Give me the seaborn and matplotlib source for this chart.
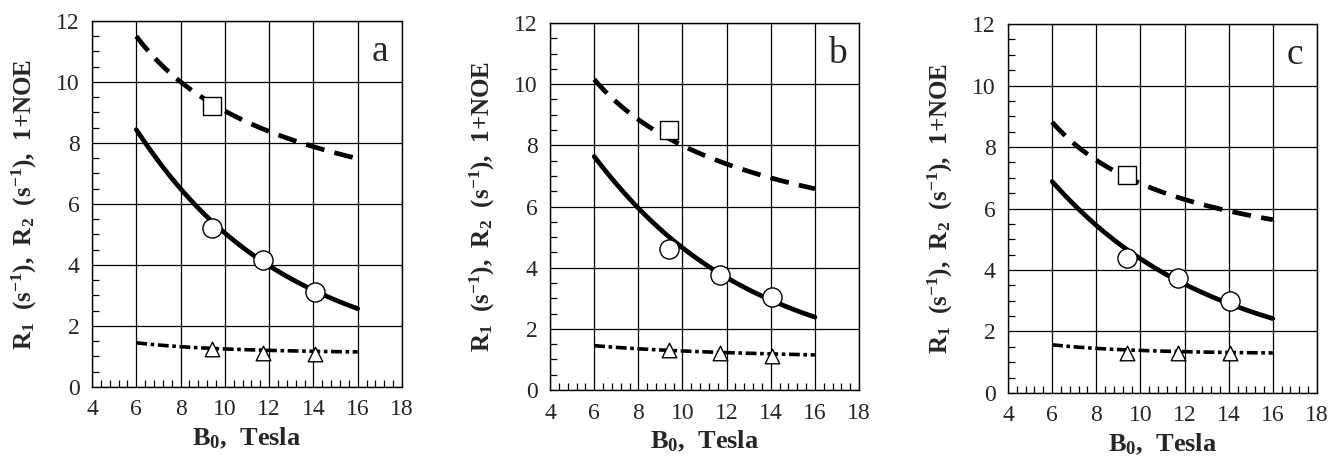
import numpy as np
import pandas as pd
import seaborn as sns
import matplotlib.pyplot as plt
from matplotlib.ticker import MultipleLocator

# Champ magnétique (Tesla) pour les courbes calculées et les points mesurés
x_curve = [6, 8, 10, 12, 14, 16]
x_pts = [9.4, 11.7, 14.05]

panels = ['a', 'b', 'c']

# R2 (tirets) / R1 (trait plein) / 1+NOE (tiret-point)
r2_curve = {'a': [11.5, 10.0, 9.05, 8.4, 7.85, 7.5],
            'b': [10.15, 8.85, 8.0, 7.4, 6.9, 6.6],
            'c': [8.8, 7.6, 6.8, 6.3, 5.9, 5.65]}
r1_curve = {'a': [8.45, 6.5, 5.0, 4.0, 3.2, 2.55],
            'b': [7.65, 5.9, 4.7, 3.65, 2.95, 2.38],
            'c': [6.9, 5.4, 4.4, 3.55, 2.9, 2.42]}
noe_curve = {'a': [1.45, 1.32, 1.25, 1.2, 1.17, 1.15],
             'b': [1.45, 1.35, 1.28, 1.22, 1.18, 1.15],
             'c': [1.57, 1.45, 1.38, 1.35, 1.32, 1.3]}

r2_pts = {'a': [9.2], 'b': [8.5], 'c': [7.1]}
r1_pts = {'a': [5.2, 4.15, 3.1], 'b': [4.6, 3.75, 3.05], 'c': [4.4, 3.75, 3.0]}
noe_pts = {'a': [1.25, 1.1, 1.08], 'b': [1.3, 1.2, 1.1], 'c': [1.3, 1.3, 1.3]}

sns.set_style('white')
plt.rcParams['font.family'] = ['Liberation Serif', 'DejaVu Serif']
plt.rcParams['mathtext.fontset'] = 'custom'
plt.rcParams['mathtext.rm'] = 'Liberation Serif'
plt.rcParams['mathtext.bf'] = 'Liberation Serif:bold'
plt.rcParams['mathtext.it'] = 'Liberation Serif:italic'

fig = plt.figure(figsize=(13.28, 4.59), dpi=100)
positions = [[0.0693, 0.1569, 0.2334, 0.7974],
             [0.4142, 0.1503, 0.2327, 0.7996],
             [0.7590, 0.1438, 0.2327, 0.8039]]

for p, pos in zip(panels, positions):
    ax = fig.add_axes(pos)

    # courbes calculées (interpolation lisse entre les points lus)
    xs = np.linspace(6, 16, 100)
    for vals, style, lw in [(r2_curve[p], (4, 2.2), 3.4),
                            (r1_curve[p], '', 3.4),
                            (noe_curve[p], (3, 1, 1, 1), 2.6)]:
        coef = np.polyfit(np.log(x_curve), np.log(vals), 2)
        ys = np.exp(np.polyval(coef, np.log(xs)))
        d = pd.DataFrame({'B0': xs, 'R': ys})
        if style == '':
            sns.lineplot(data=d, x='B0', y='R', ax=ax, color='black', lw=lw)
        else:
            sns.lineplot(data=d, x='B0', y='R', ax=ax, color='black', lw=lw,
                         dashes=False, linestyle=(0, style))

    # points expérimentaux
    sns.scatterplot(x=x_pts[:1], y=r2_pts[p], ax=ax, marker='s', s=150,
                    facecolor='white', edgecolor='black', linewidth=1, zorder=5)
    sns.scatterplot(x=x_pts, y=r1_pts[p], ax=ax, marker='o', s=190,
                    facecolor='white', edgecolor='black', linewidth=1, zorder=5)
    sns.scatterplot(x=x_pts, y=noe_pts[p], ax=ax, marker='^', s=110,
                    facecolor='white', edgecolor='black', linewidth=1, zorder=5)

    ax.set_xlim(4, 18)
    ax.set_ylim(0, 12)
    ax.xaxis.set_major_locator(MultipleLocator(2))
    ax.yaxis.set_major_locator(MultipleLocator(2))
    ax.xaxis.set_minor_locator(MultipleLocator(0.4))
    ax.yaxis.set_minor_locator(MultipleLocator(0.5))
    ax.grid(True, which='major', color='black', lw=0.9)
    ax.tick_params(which='major', length=0, labelsize=17, pad=9)
    ax.tick_params(which='minor', direction='in', length=5, width=0.9,
                   bottom=True, left=True, color='black')
    for s in ax.spines.values():
        s.set_color('black')
        s.set_linewidth(1.0)

    ax.set_xlabel(r'B$_{\mathbf{0}}$,  Tesla', fontsize=19, fontweight='bold', labelpad=4)
    ax.set_ylabel(r'R$_{\mathbf{1}}$  (s$^{\mathbf{-1}}$),  R$_{\mathbf{2}}$  (s$^{\mathbf{-1}}$),  1+NOE',
                  fontsize=18, fontweight='bold', labelpad=12)
    ax.text(17.0, 11.0, p, fontsize=27, ha='center', va='center')

plt.savefig('out.png', dpi=100)
plt.close()
